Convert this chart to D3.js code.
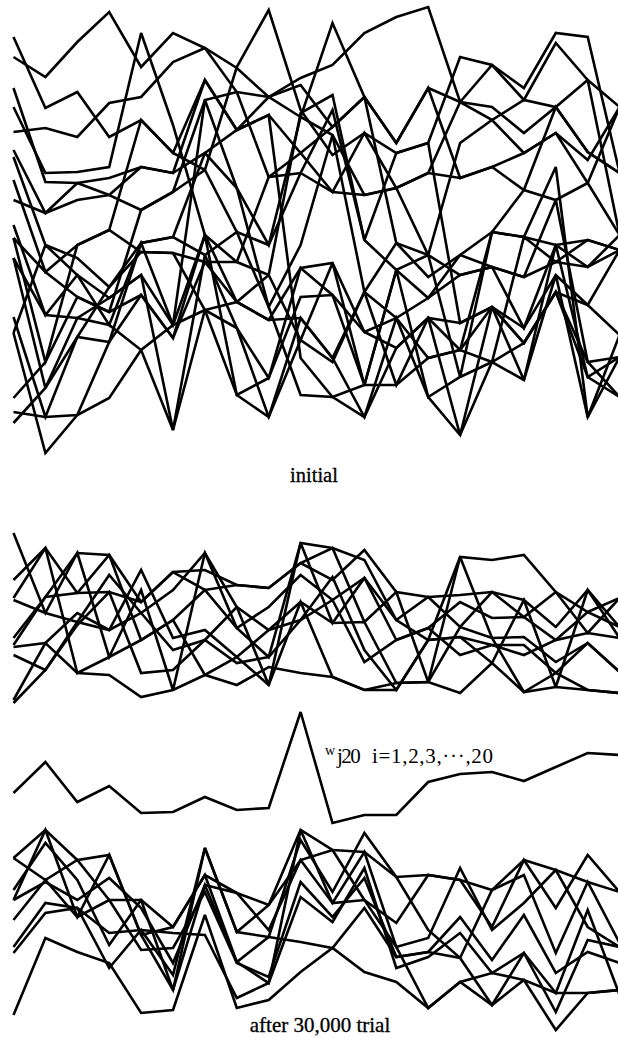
<!DOCTYPE html>
<html><head><meta charset="utf-8">
<script src="https://cdn.jsdelivr.net/npm/d3@7"></script>
<style>html,body{margin:0;padding:0;background:#fff;} svg{display:block;}</style>
</head><body>
<svg id="c" width="618" height="1038"></svg>
<script>
// input index i = 1..20
const trialIndex = [1,2,3,4,5,6,7,8,9,10,11,12,13,14,15,16,17,18,19,20];

// initial weights (20 hidden units), heights in arbitrary units
const initialLines = [
  [418,347,363,318,335,302,375,325,340,302,328,358,312,367,353,348,322,348,303,282],
  [398,378,413,443,388,422,407,363,278,282,263,260,267,282,277,288,265,255,272,348],
  [323,327,318,352,358,393,407,387,358,377,390,422,438,448,353,390,367,422,418,282],
  [255,242,255,260,245,263,285,388,445,345,300,322,302,312,398,390,355,412,375,220],
  [367,273,272,277,288,282,302,267,210,338,432,358,212,178,200,223,218,210,215,205],
  [348,282,283,288,422,330,220,193,180,342,360,215,185,200,312,335,302,322,295,348],
  [298,210,197,168,212,218,200,223,148,210,320,163,137,157,180,188,178,193,188,205],
  [275,183,210,225,203,202,193,153,135,187,192,123,107,137,132,148,127,180,150,120],
  [230,140,180,157,180,130,145,127,77,158,160,70,70,97,105,93,112,163,93,98],
  [217,93,158,143,160,117,220,60,38,137,97,38,137,58,20,148,75,210,78,58],
  [197,67,137,130,105,25,145,153,180,115,93,163,212,200,78,223,218,288,38,120],
  [138,38,118,113,212,218,302,325,340,97,58,70,185,157,200,188,178,255,93,58],
  [122,2,40,57,105,130,355,267,148,60,58,38,107,137,20,93,75,180,38,98],
  [57,93,210,225,335,302,285,223,210,282,345,215,302,312,132,148,112,163,150,205],
  [43,38,40,113,160,117,193,193,278,302,263,322,267,200,180,188,127,210,188,220],
  [32,67,118,168,203,202,145,60,77,187,160,123,137,97,105,223,265,348,303,282],
  [197,140,137,157,180,25,200,127,38,115,192,70,185,58,78,93,218,193,215,205],
  [217,183,158,143,245,263,355,363,358,370,328,358,312,367,277,288,302,322,272,220],
  [305,242,272,260,288,282,375,325,358,338,320,260,267,282,353,335,355,348,375,348],
  [122,210,180,130,212,130,220,153,135,137,97,163,70,137,105,148,112,163,78,98]
];

// after 30,000 trials: upper group of weights
const trainedUpperLines = [
  [487,407,467,363,430,330,467,413,335,477,472,460,400,380,463,460,465,428,408,422],
  [422,472,427,428,418,448,450,435,432,457,440,470,428,423,425,428,420,393,430,393],
  [382,423,467,465,380,400,430,392,413,445,420,442,380,392,418,402,403,380,387,382],
  [373,377,407,390,450,382,390,363,390,418,397,398,337,338,393,382,383,358,377,348],
  [365,350,398,445,407,370,380,357,363,400,443,370,330,380,383,375,375,347,330,327],
  [320,377,347,345,323,330,345,335,353,347,343,330,337,338,327,357,328,333,330,327],
  [317,350,395,428,347,350,380,413,390,400,420,358,380,392,365,375,365,380,408,393],
  [420,407,398,390,407,430,467,392,363,477,397,442,400,423,393,428,403,428,387,422],
  [375,423,427,465,418,448,430,435,432,457,472,398,428,338,463,382,328,347,377,348],
  [440,472,347,363,380,400,345,363,335,418,343,330,330,380,383,357,420,333,430,382]
];

// the weight w_j20 (i = 1..20)
const wj20 = [227,258,218,234,207,208,223,210,212,308,197,205,205,238,246,248,239,253,267,265];

// after 30,000 trials: lower group of weights
const trainedLowerLines = [
  [5,82,68,57,7,10,105,12,20,48,72,48,38,12,38,15,40,-10,27,30],
  [162,190,160,165,85,30,172,88,115,190,170,120,97,145,140,93,160,112,165,128],
  [130,177,140,75,120,93,145,58,83,180,128,187,143,90,62,130,145,67,138,77],
  [120,138,120,142,112,57,135,127,90,160,117,168,73,82,152,90,117,150,93,73],
  [100,140,103,120,70,72,128,57,43,138,103,142,63,68,103,60,105,47,68,57],
  [73,117,112,87,90,87,85,22,37,123,98,152,52,63,87,47,67,27,110,25],
  [67,107,112,52,90,45,172,88,83,78,72,112,63,68,62,15,67,8,80,73],
  [162,140,160,120,120,30,135,58,37,190,117,120,73,12,38,47,40,27,27,30],
  [120,190,103,165,85,93,145,127,115,160,170,168,143,145,140,130,160,150,138,128]
];

const panelTitles = ["initial", "after 30,000 trial"];
const weightLabel = ["w", "j20", "i=1,2,3,\u00b7\u00b7\u00b7,20"];

const svg = d3.select("#c");
const x = d3.scaleLinear().domain([1, 20]).range([13.5, 619.6]);
const yTop = d3.scaleLinear().domain([0, 450]).range([455, 5]);
const yBot = d3.scaleLinear().domain([0, 500]).range([1020, 520]);

function drawLines(g, series, yScale) {
  const gen = d3.line().x((d, i) => x(trialIndex[i])).y(d => yScale(d)).curve(d3.curveLinear);
  g.selectAll("path").data(series).join("path")
    .attr("d", gen)
    .attr("fill", "none")
    .attr("stroke", "#000")
    .attr("stroke-width", 2.6)
    .attr("stroke-linejoin", "miter")
    .attr("stroke-miterlimit", 3);
}

drawLines(svg.append("g"), initialLines, yTop);
drawLines(svg.append("g"), trainedUpperLines, yBot);
drawLines(svg.append("g"), [wj20], yBot);
drawLines(svg.append("g"), trainedLowerLines, yBot);

const font = "'Liberation Serif', 'Times New Roman', serif";
svg.append("text").attr("x", 314).attr("y", 482).attr("text-anchor", "middle")
  .attr("font-family", font).attr("font-size", 20.5).attr("fill", "#000")
  .attr("stroke", "#000").attr("stroke-width", 0.3).text(panelTitles[0]);
svg.append("text").attr("x", 320).attr("y", 1032).attr("text-anchor", "middle")
  .attr("font-family", font).attr("font-size", 21).attr("fill", "#000")
  .attr("stroke", "#000").attr("stroke-width", 0.3).text(panelTitles[1]);

const lab = svg.append("g").attr("font-family", font).attr("fill", "#000");
lab.append("text").attr("x", 325).attr("y", 755).attr("font-size", 14).text(weightLabel[0]);
lab.append("text").attr("x", 337).attr("y", 763).attr("font-size", 21)
  .attr("letter-spacing", -1.5).text(weightLabel[1]);
lab.append("text").attr("x", 372).attr("y", 763).attr("font-size", 21)
  .attr("textLength", 121).attr("lengthAdjust", "spacing").text(weightLabel[2]);
</script>
</body></html>
